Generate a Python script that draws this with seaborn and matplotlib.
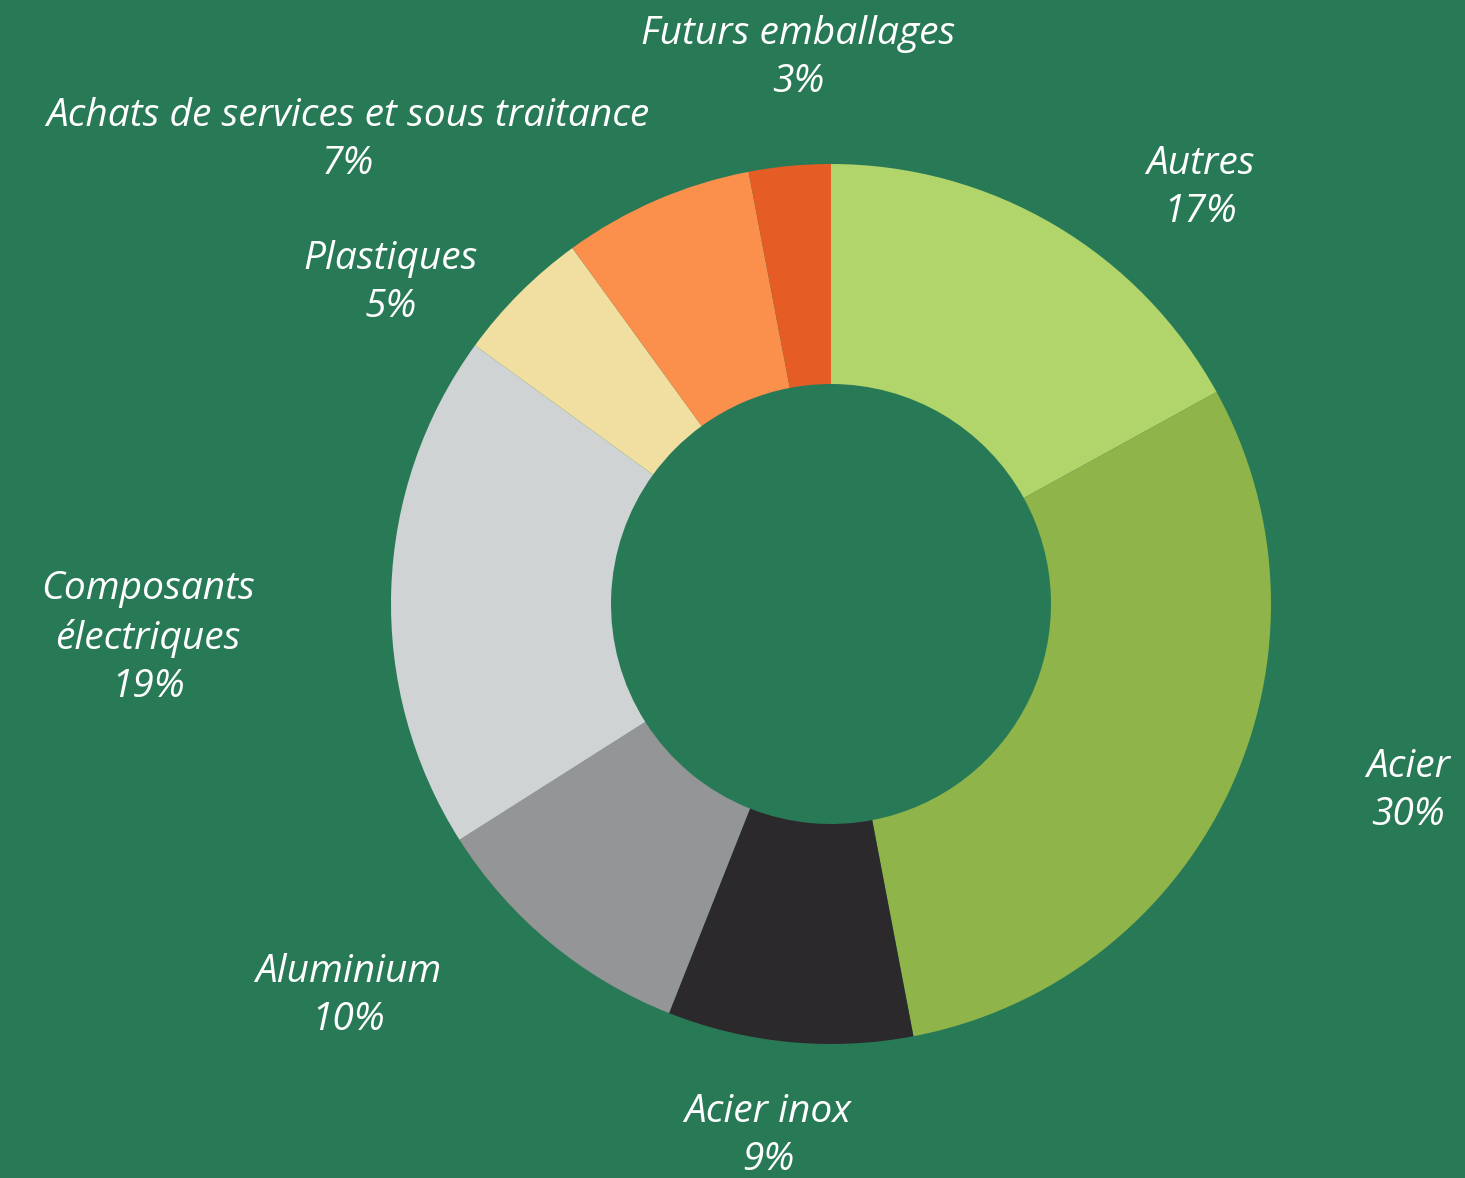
import numpy as np
import matplotlib
matplotlib.use("Agg")
import matplotlib.pyplot as plt
import seaborn as sns

# ── données ─────────────────────────────────────────────
categories = ["Autres", "Acier", "Acier inox", "Aluminium",
              "Composants\nélectriques", "Plastiques",
              "Achats de services et sous traitance", "Futurs emballages"]
shares = [17, 30, 9, 10, 19, 5, 7, 3]
colors = ["#b1d56b", "#8fb44a", "#2b292b", "#939597",
          "#d0d3d4", "#f1dfa1", "#fb8f4c", "#e55c24"]
# position des étiquettes (en unités du rayon, centre du donut = 0,0)
label_pos = [(0.839, 0.945), (1.311, -0.425), (-0.143, -1.21), (-1.098, -0.89),
             (-1.552, -0.078), (-1.0, 0.73), (-1.098, 1.055), (-0.075, 1.24)]

BG = "#287a57"

sns.set_theme(style="white")
plt.rcParams["font.family"] = ["Open Sans", "DejaVu Sans"]

fig = plt.figure(figsize=(14.65, 11.78), dpi=100, facecolor=BG)
ax = fig.add_axes([0, 0, 1, 1])
ax.set_facecolor(BG)

ax.pie(shares, colors=colors, startangle=90, counterclock=False,
       radius=1.0, wedgeprops=dict(width=0.5, linewidth=0))

for cat, val, (x, y) in zip(categories, shares, label_pos):
    ax.text(x, y, f"{cat}\n{val}%", ha="center", va="center",
            color="white", fontsize=28, style="italic", fontweight="medium",
            linespacing=1.35)

# 440 px par unité, centre du donut à (831, 604) px
ax.set_xlim(-831 / 440, (1465 - 831) / 440)
ax.set_ylim(-(1178 - 604) / 440, 604 / 440)
ax.set_aspect("equal")
ax.axis("off")

plt.savefig("out.png", dpi=100, facecolor=BG)
plt.close()
